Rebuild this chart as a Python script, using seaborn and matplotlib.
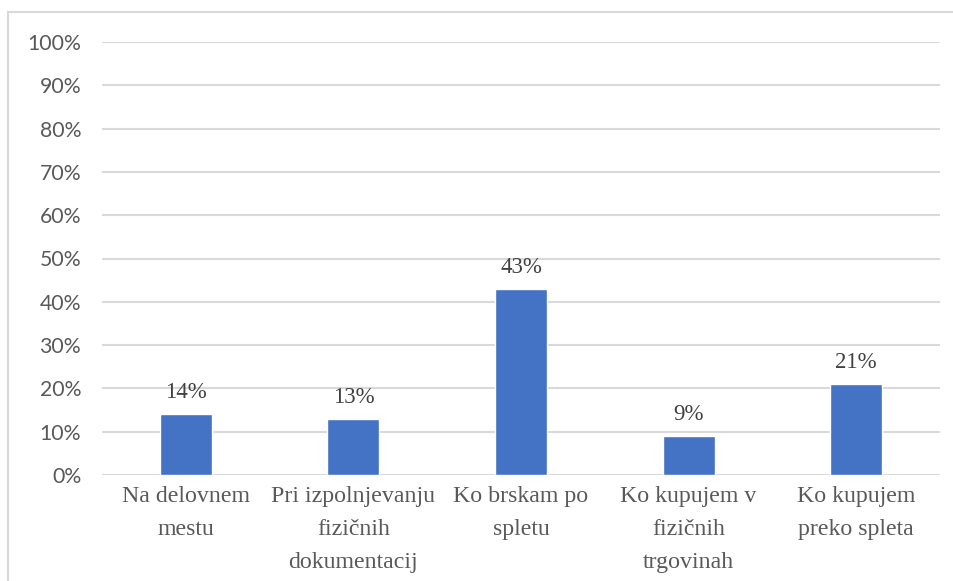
import matplotlib
matplotlib.use("Agg")
import matplotlib.pyplot as plt
from matplotlib.patches import Rectangle
from matplotlib.ticker import MultipleLocator, PercentFormatter
import seaborn as sns
import pandas as pd

categories = [
    "Na delovnem\nmestu",
    "Pri izpolnjevanju\nfizičnih\ndokumentacij",
    "Ko brskam po\nspletu",
    "Ko kupujem v\nfizičnih\ntrgovinah",
    "Ko kupujem\npreko spleta",
]
values = [14, 13, 43, 9, 21]
value_labels = ["14%", "13%", "43%", "9%", "21%"]

df = pd.DataFrame({"kategorija": categories, "delez": values})

sns.set_theme(style="white")
plt.rcParams["font.family"] = ["Lato", "DejaVu Sans"]
plt.rcParams["font.serif"] = ["Liberation Serif", "Times New Roman", "DejaVu Serif"]

fig = plt.figure(figsize=(9.54, 5.81), dpi=100)
ax = fig.add_axes([102 / 954, 1 - 475 / 581, (940 - 102) / 954, (475 - 42) / 581])

sns.barplot(data=df, x="kategorija", y="delez", color="#4472C4",
            width=0.31, saturation=1, ax=ax, zorder=3)

ax.set_ylim(0, 100)
ax.yaxis.set_major_locator(MultipleLocator(10))
ax.yaxis.set_major_formatter(PercentFormatter(decimals=0))
ax.grid(axis="y", color="#d9d9d9", linewidth=1.5, zorder=0)
ax.set_axisbelow(True)
for s in ax.spines.values():
    s.set_visible(False)
ax.set_xlabel("")
ax.set_ylabel("")
ax.tick_params(axis="both", length=0)
ax.tick_params(axis="y", labelsize=15.3, labelcolor="#595959", pad=15)
ax.set_xticks(range(len(categories)))
ax.set_xticklabels(categories, fontfamily="serif", fontsize=17.2,
                   color="#595959", linespacing=1.76)
ax.tick_params(axis="x", pad=8)

for i, (v, t) in enumerate(zip(values, value_labels)):
    ax.annotate(t, (i, v), xytext=(0, 8), textcoords="offset points",
                ha="center", va="bottom", fontsize=16.5, color="#404040",
                fontfamily="serif")

# light frame around the chart area
fig.patches.append(Rectangle((8.5 / 954, -0.1), 2, 1 - 12.5 / 581 + 0.1,
                             transform=fig.transFigure, fill=False,
                             edgecolor="#d9d9d9", linewidth=1.5))

fig.savefig("out.png", dpi=100, facecolor="white")
